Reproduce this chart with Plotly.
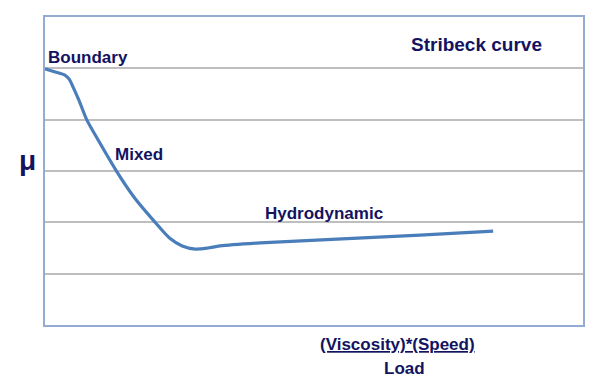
import plotly.graph_objects as go

# Curve (x: 0-10 arbitrary, y: mu scale 0-6 grid units)
curve_x = [0, 0.19, 0.37, 0.45, 0.52, 0.63, 0.78, 0.99, 1.34, 1.67, 2.04, 2.32,
           2.55, 2.79, 3.03, 3.25, 4.00, 6.97, 8.33]
curve_y = [4.99, 4.93, 4.87, 4.79, 4.64, 4.38, 3.99, 3.60, 2.98, 2.47, 2.01, 1.69,
           1.54, 1.48, 1.50, 1.54, 1.60, 1.75, 1.83]

regime_labels = ["Boundary", "Mixed", "Hydrodynamic"]
regime_x = [0.015, 1.26, 4.05]
regime_y = [5.22, 3.33, 2.18]

title_text = "Stribeck curve"
y_label = "μ"
x_label_num = "(Viscosity)*(Speed)"
x_label_den = "Load"

FONT = "Liberation Sans, Arial, sans-serif"
NAVY = "#13135f"

fig = go.Figure()
fig.add_trace(go.Scatter(
    x=curve_x, y=curve_y, mode="lines",
    line=dict(color="#4a7ebb", width=3.2, shape="spline", smoothing=0.8),
    hoverinfo="skip", showlegend=False))

annotations = []
for t, x, y in zip(regime_labels, regime_x, regime_y):
    annotations.append(dict(x=x, y=y, xref="x", yref="y", text=f"<b>{t}</b>",
                            showarrow=False, xanchor="left", yanchor="middle",
                            font=dict(family=FONT, size=17, color=NAVY)))
annotations.append(dict(x=6.76, y=5.47, xref="x", yref="y", text=f"<b>{title_text}</b>",
                        showarrow=False, xanchor="left", yanchor="middle",
                        font=dict(family=FONT, size=19, color=NAVY)))
annotations.append(dict(x=-0.033, y=3.21, xref="paper", yref="y", text=f"<b>{y_label}</b>",
                        showarrow=False, xanchor="center", yanchor="middle",
                        font=dict(family=FONT, size=28, color=NAVY)))
annotations.append(dict(x=6.56, y=-0.062, xref="x", yref="paper", text=f"<b><u>{x_label_num}</u></b>",
                        showarrow=False, xanchor="center", yanchor="middle",
                        font=dict(family=FONT, size=17, color=NAVY)))
annotations.append(dict(x=6.69, y=-0.14, xref="x", yref="paper", text=f"<b>{x_label_den}</b>",
                        showarrow=False, xanchor="center", yanchor="middle",
                        font=dict(family=FONT, size=17, color=NAVY)))

fig.update_layout(
    width=600, height=388,
    margin=dict(l=45, r=17, t=17, b=63),
    paper_bgcolor="white", plot_bgcolor="white",
    annotations=annotations,
    xaxis=dict(range=[0, 10], showgrid=False, zeroline=False, showticklabels=False,
               ticks="", showline=True, mirror=True, linecolor="#93acd3", linewidth=1.5),
    yaxis=dict(range=[0, 6], dtick=1, showgrid=True, gridcolor="#bebebe", gridwidth=1.5,
               zeroline=False, showticklabels=False, ticks="",
               showline=True, mirror=True, linecolor="#93acd3", linewidth=1.5),
)

fig.write_html("out.html")
